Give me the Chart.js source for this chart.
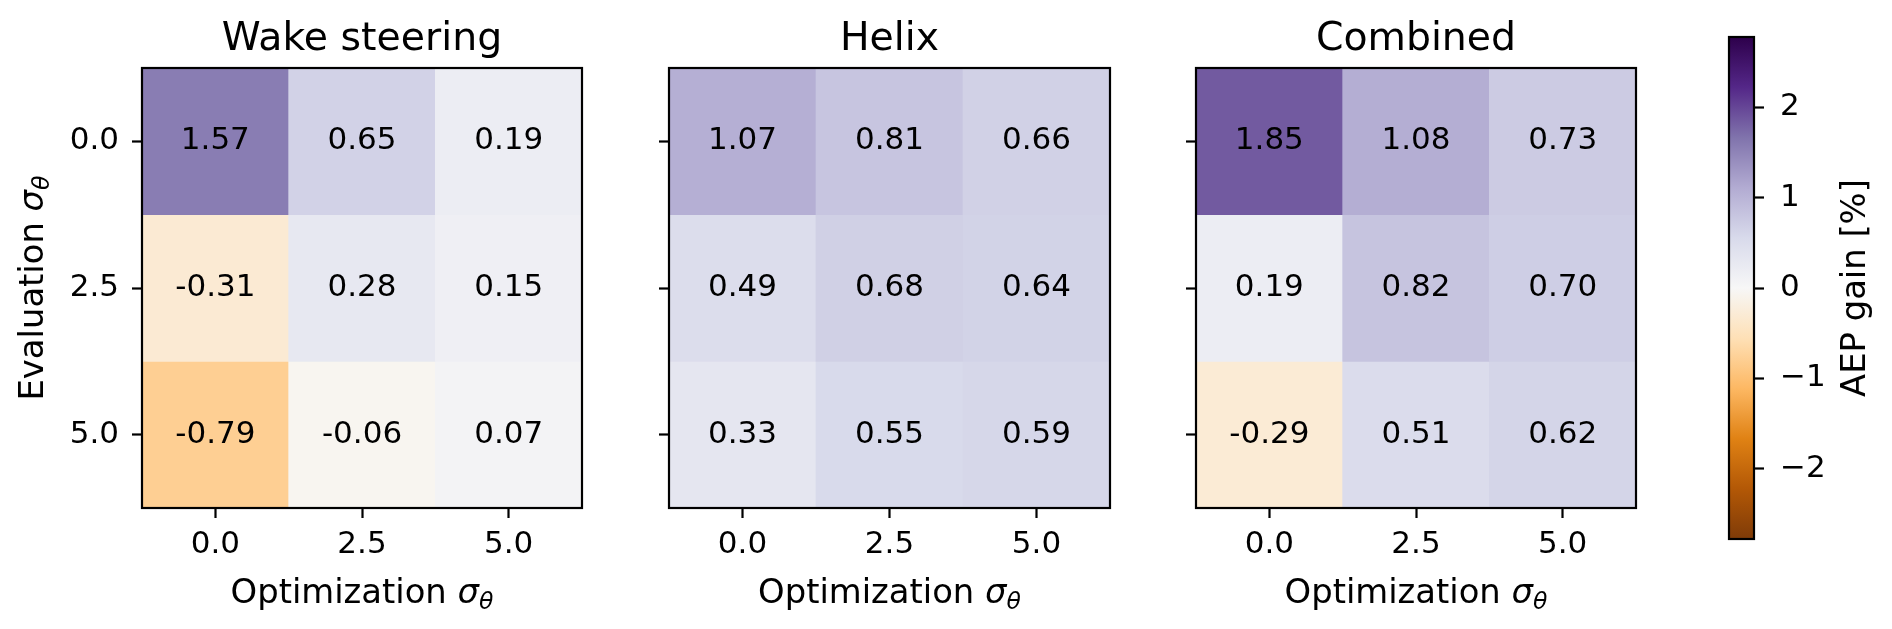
<!DOCTYPE html>
<html>
<head>
<meta charset="utf-8">
<script src="https://cdn.jsdelivr.net/npm/chart.js@4.4.1/dist/chart.umd.min.js"></script>
<style>
  body { margin: 0; background: #fff; }
  #figure { position: relative; width: 1892px; height: 629px; overflow: hidden; background: #fff; }
  #figure canvas { position: absolute; top: 0; }
</style>
</head>
<body>
<div id="figure">
  <canvas id="wakeChart" width="600" height="629" style="left:0px"></canvas>
  <canvas id="helixChart" width="530" height="629" style="left:600px"></canvas>
  <canvas id="combinedChart" width="540" height="629" style="left:1130px"></canvas>
  <canvas id="colorbarChart" width="212" height="629" style="left:1680px"></canvas>
</div>
<script>
const optimizationLabels = ["0.0", "2.5", "5.0"];
const evaluationLabels = ["0.0", "2.5", "5.0"];

// rows = evaluation sigma, columns = optimization sigma
const wakeSteeringGain = [
  [1.57, 0.65, 0.19],
  [-0.31, 0.28, 0.15],
  [-0.79, -0.06, 0.07],
];
const helixGain = [
  [1.07, 0.81, 0.66],
  [0.49, 0.68, 0.64],
  [0.33, 0.55, 0.59],
];
const combinedGain = [
  [1.85, 1.08, 0.73],
  [0.19, 0.82, 0.70],
  [-0.29, 0.51, 0.62],
];

const colorbarTicks = [-2, -1, 0, 1, 2];
const colorLimit = 2.78;

// matplotlib PuOr
const puor = [
  [127, 59, 8], [179, 88, 6], [224, 130, 20], [253, 184, 99], [254, 224, 182],
  [247, 247, 247], [216, 218, 235], [178, 171, 210], [128, 115, 172], [84, 39, 136], [45, 0, 75],
];

const FONT = "'DejaVu Sans', sans-serif";
const TICK_SIZE = 31;
const LABEL_SIZE = 33.8;
const TITLE_SIZE = 39.4;
const LINE = 2.2;

function gainColor(value) {
  const t = Math.min(1, Math.max(0, (value + colorLimit) / (2 * colorLimit))) * (puor.length - 1);
  const i = Math.min(puor.length - 2, Math.floor(t));
  const f = t - i;
  const c = puor[i].map((a, k) => Math.round(a + (puor[i + 1][k] - a) * f));
  return `rgb(${c[0]},${c[1]},${c[2]})`;
}

function axisLabel(word) {
  return [{ text: word + " " }, { text: "σ", italic: true }, { text: "θ", italic: true, sub: true }];
}

function drawRich(ctx, parts, size, x, y, angle) {
  ctx.save();
  ctx.translate(x, y);
  ctx.rotate(angle);
  ctx.textBaseline = "alphabetic";
  ctx.textAlign = "left";
  ctx.fillStyle = "#000";
  const fontOf = (p) => `${p.italic ? "italic " : ""}${p.sub ? size * 0.7 : size}px ${FONT}`;
  let total = 0;
  parts.forEach((p) => { ctx.font = fontOf(p); total += ctx.measureText(p.text).width; });
  let cx = -total / 2;
  parts.forEach((p) => {
    ctx.font = fontOf(p);
    ctx.fillText(p.text, cx, p.sub ? size * 0.18 : 0);
    cx += ctx.measureText(p.text).width;
  });
  ctx.restore();
}

const framePlugin = {
  id: "frame",
  afterDatasetsDraw(chart) {
    const { ctx, chartArea: a } = chart;
    ctx.save();
    ctx.strokeStyle = "#000";
    ctx.lineWidth = LINE;
    ctx.strokeRect(a.left, a.top, a.right - a.left, a.bottom - a.top);
    ctx.restore();
  },
};

const cellTextPlugin = {
  id: "cellText",
  afterDatasetsDraw(chart) {
    const { ctx } = chart;
    ctx.save();
    ctx.font = `${TICK_SIZE}px ${FONT}`;
    ctx.fillStyle = "#000";
    ctx.textAlign = "center";
    ctx.textBaseline = "middle";
    chart.data.datasets.forEach((ds, di) => {
      chart.getDatasetMeta(di).data.forEach((bar, ci) => {
        const { x, y, base } = bar.getProps(["x", "y", "base"], true);
        ctx.fillText(ds.cellValues[ci].toFixed(2), x, (y + base) / 2);
      });
    });
    ctx.restore();
  },
};

const panelTextPlugin = {
  id: "panelText",
  afterDraw(chart, args, opts) {
    const { ctx, chartArea: a } = chart;
    const midX = (a.left + a.right) / 2;
    const midY = (a.top + a.bottom) / 2;
    if (opts.title) drawRich(ctx, [{ text: opts.title }], TITLE_SIZE, midX, a.top - 18, 0);
    if (opts.xLabel) drawRich(ctx, opts.xLabel, LABEL_SIZE, midX, a.bottom + 95, 0);
    if (opts.yLabel) drawRich(ctx, opts.yLabel, LABEL_SIZE, a.left - 99, midY, -Math.PI / 2);
    if (opts.rightLabel) drawRich(ctx, opts.rightLabel, LABEL_SIZE, a.right + 111, midY, -Math.PI / 2);
  },
};

const tickGrid = {
  drawOnChartArea: false,
  drawTicks: true,
  tickLength: 10,
  tickWidth: LINE,
  tickColor: "#000",
  offset: false,
};

function renderPanel(canvasId, title, values, yWidth, padRight, showY) {
  return new Chart(document.getElementById(canvasId), {
    type: "bar",
    data: {
      labels: optimizationLabels,
      datasets: evaluationLabels.map((label, row) => ({
        label,
        data: optimizationLabels.map(() => [row - 0.5, row + 0.5]),
        cellValues: values[row],
        backgroundColor: values[row].map(gainColor),
        borderWidth: 0,
        grouped: false,
        barPercentage: 1,
        categoryPercentage: 1,
      })),
    },
    options: {
      responsive: false,
      animation: false,
      events: [],
      layout: { padding: { top: 68, right: padRight, left: 0, bottom: 0 } },
      plugins: {
        legend: { display: false },
        tooltip: { enabled: false },
        panelText: {
          title,
          xLabel: axisLabel("Optimization"),
          yLabel: showY ? axisLabel("Evaluation") : null,
        },
      },
      scales: {
        x: {
          type: "category",
          offset: true,
          grid: tickGrid,
          border: { display: false },
          ticks: { color: "#000", font: { family: FONT, size: TICK_SIZE }, padding: 8, maxRotation: 0 },
          afterFit: (scale) => { scale.height = 121; },
        },
        y: {
          type: "linear",
          reverse: true,
          min: -0.5,
          max: 2.5,
          grid: tickGrid,
          border: { display: false },
          afterBuildTicks: (scale) => { scale.ticks = evaluationLabels.map((_, i) => ({ value: i })); },
          ticks: {
            color: "#000",
            font: { family: FONT, size: TICK_SIZE },
            padding: 13,
            callback: (value) => (showY ? evaluationLabels[value] : ""),
          },
          afterFit: (scale) => { scale.width = yWidth; },
        },
      },
    },
    plugins: [framePlugin, cellTextPlugin, panelTextPlugin],
  });
}

function renderColorbar() {
  return new Chart(document.getElementById("colorbarChart"), {
    type: "bar",
    data: {
      labels: ["AEP gain"],
      datasets: [{
        data: [[-colorLimit, colorLimit]],
        borderWidth: 0,
        barPercentage: 1,
        categoryPercentage: 1,
        backgroundColor: (context) => {
          const { chart } = context;
          if (!chart.chartArea) return "#f7f7f7";
          const ys = chart.scales.y;
          const gradient = chart.ctx.createLinearGradient(0, ys.getPixelForValue(-colorLimit), 0, ys.getPixelForValue(colorLimit));
          puor.forEach((c, i) => gradient.addColorStop(i / (puor.length - 1), `rgb(${c[0]},${c[1]},${c[2]})`));
          return gradient;
        },
      }],
    },
    options: {
      responsive: false,
      animation: false,
      events: [],
      layout: { padding: { top: 37, left: 49, right: 0, bottom: 90 } },
      plugins: {
        legend: { display: false },
        tooltip: { enabled: false },
        panelText: { rightLabel: [{ text: "AEP gain [%]" }] },
      },
      scales: {
        x: { type: "category", display: false, offset: true },
        y: {
          type: "linear",
          position: "right",
          min: -colorLimit,
          max: colorLimit,
          grid: tickGrid,
          border: { display: false },
          afterBuildTicks: (scale) => { scale.ticks = colorbarTicks.map((v) => ({ value: v })); },
          ticks: {
            color: "#000",
            font: { family: FONT, size: TICK_SIZE },
            padding: 16,
            callback: (value) => (value < 0 ? "\u2212" + Math.abs(value) : String(value)),
          },
          afterFit: (scale) => { scale.width = 138; },
        },
      },
    },
    plugins: [framePlugin, panelTextPlugin],
  });
}

document.addEventListener("DOMContentLoaded", () => {
  renderPanel("wakeChart", "Wake steering", wakeSteeringGain, 142, 18, true);
  renderPanel("helixChart", "Helix", helixGain, 69, 20, false);
  renderPanel("combinedChart", "Combined", combinedGain, 66, 34, false);
  renderColorbar();
});
</script>
</body>
</html>
